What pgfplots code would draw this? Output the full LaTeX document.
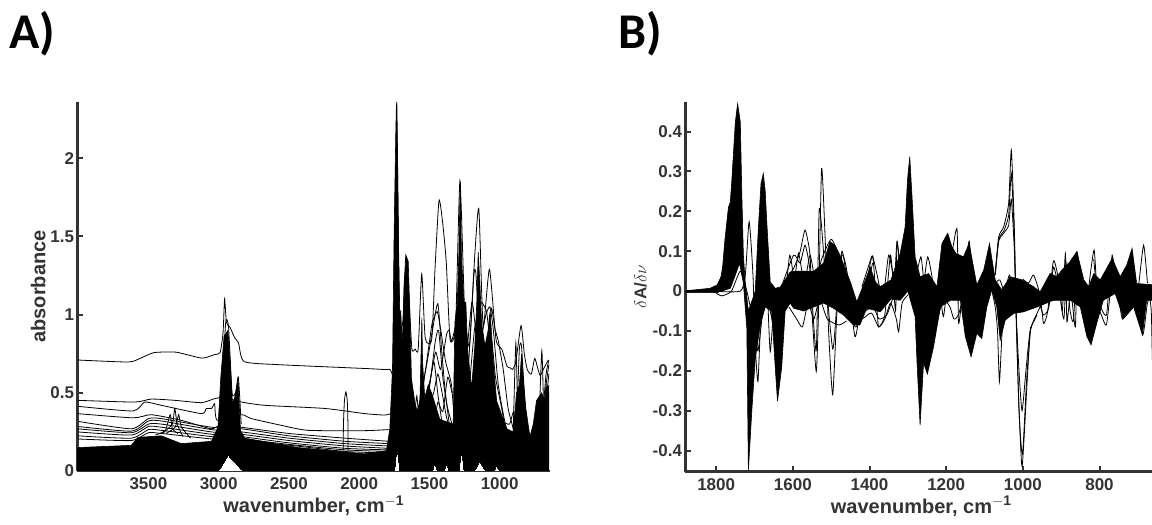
\documentclass[border=0pt]{standalone}
\usepackage{fontspec}
\setmainfont{Liberation Sans}
\newfontfamily\panelfont{Carlito}
\usepackage{pgfplots}
\pgfplotsset{compat=1.18}
\definecolor{axc}{HTML}{333333}
\pgfplotsset{
  sp/.style={black,line width=0.8pt,smooth,tension=0.35,no markers},
  mass/.style={black,fill=black,line width=0.6pt,no markers},
  hole/.style={white,fill=white,line width=0pt,no markers},
  panel/.style={scale only axis,anchor=south west,axis x line*=bottom,axis y line*=left,
    axis line style={-,line width=2.4pt,color=axc},
    tick style={line width=2pt,color=axc},
    major tick length=6pt,tick align=inside,
    x dir=reverse,
    xtick pos=bottom,ytick pos=left,
    tick label style={font=\fontsize{17}{17}\selectfont\bfseries,text=axc},
    label style={font=\fontsize{20}{20}\selectfont\bfseries,text=axc},
    xticklabel style={yshift=-3pt},
    xlabel style={yshift=1pt},
  },
}
\begin{document}
\begin{tikzpicture}
\useasboundingbox (0,0) rectangle (1152pt,525pt);
\clip (0,0) rectangle (1152pt,525pt);
\node[anchor=base west,inner sep=0pt,text=black] at (9pt,476pt) {\panelfont\fontsize{50}{50}\selectfont\bfseries A)};
\node[anchor=base west,inner sep=0pt,text=black] at (618pt,476pt) {\panelfont\fontsize{50}{50}\selectfont\bfseries B)};
\begin{axis}[panel,at={(77.5pt,54pt)},width=472.5pt,height=369pt,
  xmin=642,xmax=4005,ymin=0,ymax=2.36,
  xtick={1000,1500,2000,2500,3000,3500},xticklabels={1000,1500,2000,2500,3000,3500},
  ytick={0,0.5,1,1.5,2},yticklabels={0,0.5,1,1.5,2},
  xlabel={wavenumber, cm$^{\mathbf{-1}}$},ylabel={absorbance},
  ylabel style={yshift=-2pt}]
\addplot[mass] coordinates {(4005,0)(4005,.15)(3622,.164)(3575,.215)(3408,.225)(3266,.175)(3052,.19)(3005,.28)(2985,.6)(2962,.86)(2934,.9)(2915,.65)(2902,.43)(2886,.47)(2862,.58)(2845,.26)(2815,.21)(2435,.15)(1960,.11)(1806,.13)(1782,.27)(1763,.657)(1751,1.55)(1739,2.19)(1735,2.35)(1727,1.98)(1720,1.45)(1711,1.0)(1704,1.02)(1695,.83)(1687,.95)(1680,1.21)(1663,1.37)(1651,1.34)(1640,1.02)(1628,.59)(1604,.44)(1587,.38)(1568,.45)(1561,.7)(1554,.98)(1549,.7)(1533,.46)(1509,.55)(1485,.5)(1426,.33)(1331,.3)(1319,.95)(1302,1.08)(1291,1.38)(1281,1.85)(1272,1.38)(1255,1.08)(1241,1.08)(1229,.785)(1200,.53)(1177,.8)(1162,1.1)(1153,1.4)(1141,1.2)(1129,.95)(1105,.8)(1082,.9)(1072,1.0)(1063,.95)(1046,.7)(1022,.45)(951,.27)(904,.25)(880,.5)(860,.55)(844,.75)(833,.6)(814,.4)(785,.22)(761,.3)(738,.45)(702,.5)(680,.45)(664,.55)(650,.5)(650,0)} \closedcycle;
% white gaps left by the band at the foot of the peaks
\addplot[hole] coordinates {(2992,0)(2933,.09)(2885,.05)(2838,0)} \closedcycle;
\addplot[hole] coordinates {(1741,0)(1730,.10)(1717,0)} \closedcycle;
\addplot[hole] coordinates {(1470,0)(1461,.03)(1450,0)} \closedcycle;
\addplot[hole] coordinates {(1387,0)(1378,.03)(1368,0)} \closedcycle;
\addplot[hole] coordinates {(1282,0)(1271,.09)(1260,0)} \closedcycle;
\addplot[hole] coordinates {(1170,0)(1141,.05)(1110,0)} \closedcycle;
\addplot[hole] coordinates {(1030,0)(1022,.025)(1012,0)} \closedcycle;
% single spectra
\addplot[sp] coordinates {(4005,.71)(3644,.697)(3560,.72)(3461,.757)(3304,.76)(3120,.722)(3029,.745)(2990,.757)(2969,.885)(2958,1.1)(2945,.95)(2920,.92)(2885,.85)(2859,.82)(2819,.70)(2571,.68)(1942,.655)(1785,.65)(1746,.69)(1733,2.36)(1715,1.0)(1690,.95)(1668,1.38)(1645,1.1)(1625,.78)(1602,.78)(1580,.78)(1555,1.26)(1530,.85)(1484,.84)(1460,1.3)(1432,1.73)(1405,1.58)(1380,1.33)(1353,.84)(1314,.93)(1283,1.855)(1249,1.01)(1215,.8)(1183,1.3)(1149,1.68)(1118,.93)(1073,1.29)(1026,.84)(985,.78)(948,.67)(925,.66)(908,.65)(885,.7)(848,.93)(825,.75)(804,.65)(775,.62)(751,.72)(730,.66)(712,.61)(690,.65)(654,.71)};
\addplot[sp] coordinates {(4005,.452)(3599,.441)(3480,.46)(3313,.452)(3123,.437)(3028,.463)(2960,.47)(2838,.441)(2672,.42)(2245,.4)(1960,.367)(1818,.358)(1760,.37)};
\addplot[sp] coordinates {(4005,.414)(3610,.384)(3527,.441)(3408,.42)(3123,.367)(3088,.4)(3050,.4)(3029,.43)(3010,.324)(2838,.36)(2767,.335)(2554,.292)(2364,.26)(1960,.258)(1790,.265)};
\addplot[sp] coordinates {(4005,.367)(3610,.34)(3480,.36)(3266,.324)(3052,.27)(2980,.3)(2838,.28)(2500,.24)(2100,.21)(1790,.19)};
\addplot[sp] coordinates {(4005,.318)(3622,.27)(3500,.335)(3408,.335)(3052,.28)(2838,.27)(2500,.225)(2100,.19)(1790,.175)};
\addplot[sp] coordinates {(4005,.285)(3622,.255)(3500,.32)(3408,.32)(3052,.265)(2838,.25)(2500,.21)(2100,.175)(1790,.16)};
\addplot[sp] coordinates {(4005,.27)(3622,.245)(3500,.30)(3408,.30)(3052,.25)(2838,.235)(2500,.195)(2100,.16)(1790,.145)};
\addplot[sp] coordinates {(4005,.25)(3622,.23)(3500,.285)(3408,.28)(3052,.235)(2838,.22)(2500,.18)(2100,.145)(1790,.135)};
\addplot[sp] coordinates {(4005,.225)(3622,.21)(3500,.265)(3408,.26)(3052,.22)(2838,.205)(2500,.17)(2100,.135)(1790,.125)};
\addplot[sp] coordinates {(4005,.205)(3622,.195)(3500,.245)(3408,.24)(3052,.205)(2838,.19)(2500,.165)(2100,.125)(1790,.115)};
\addplot[sp] coordinates {(3450,.23)(3380,.26)(3345,.36)(3330,.27)(3290,.24)};
\addplot[sp] coordinates {(3400,.24)(3330,.30)(3313,.40)(3295,.30)(3255,.22)};
\addplot[sp] coordinates {(3375,.24)(3310,.28)(3285,.36)(3265,.28)(3200,.21)};
\addplot[sp] coordinates {(2114,.13)(2112,.30)(2105,.45)(2095,.505)(2085,.45)(2080,.30)(2079,.13)};
\addplot[sp] coordinates {(2980,.5)(2950,.95)(2930,.92)(2905,.5)(2880,.5)(2860,.6)(2840,.3)};
% fingerprint region
\addplot[sp] coordinates {(1600,.3)(1516,.7)(1473,.93)(1440,1.07)(1414,.785)(1390,.53)(1355,.27)};
\addplot[sp] coordinates {(1590,.25)(1504,.8)(1480,.95)(1445,1.02)(1421,.91)(1385,.7)(1343,.55)(1320,.27)};
\addplot[sp] coordinates {(1570,.38)(1498,.57)(1456,.76)(1421,.65)(1379,.87)(1359,.9)(1343,.83)(1307,.95)};
\addplot[sp] coordinates {(1555,.17)(1509,.49)(1469,.7)(1440,.49)(1404,.27)};
\addplot[sp] coordinates {(1530,.35)(1490,.6)(1460,.82)(1435,.9)(1405,.6)(1375,.42)(1340,.3)};
\addplot[sp] coordinates {(1500,.42)(1470,.5)(1440,.62)(1410,.5)(1380,.35)(1350,.25)};
\addplot[sp] coordinates {(1610,.3)(1590,.48)(1570,.3)(1550,.55)(1530,.4)(1500,.5)(1470,.3)(1440,.44)(1405,.38)(1370,.6)(1340,.5)};
\addplot[sp] coordinates {(1220,.7)(1184,1.25)(1170,1.27)(1153,1.03)(1129,1.08)(1094,1.02)(1077,.91)(1058,1.04)(1034,.91)(1010,.83)(975,.65)(940,.4)(904,.27)(880,.12)};
\addplot[sp] coordinates {(1229,.8)(1198,1.08)(1177,.95)(1153,.7)(1120,.9)(1098,1.0)(1070,1.05)(1045,.9)(1010,.55)(960,.3)(925,.22)};
\addplot[sp] coordinates {(1215,.55)(1180,.9)(1150,1.0)(1120,.85)(1085,.7)(1050,.55)(1015,.4)(980,.32)(930,.3)(900,.38)(880,.2)};
\addplot[sp] coordinates {(1130,.9)(1100,.65)(1060,.85)(1030,.6)(990,.42)(950,.22)};
\addplot[sp] coordinates {(905,.2)(885,.82)(870,.25)};
\addplot[sp] coordinates {(880,.3)(860,.78)(845,.8)(825,.5)(800,.15)};
\addplot[sp] coordinates {(720,.3)(700,.77)(685,.3)};
\addplot[sp] coordinates {(690,.4)(670,.62)(650,.71)};
\addplot[sp] coordinates {(700,.3)(670,.55)(650,.68)};
\addplot[sp] coordinates {(700,.25)(670,.45)(650,.62)};
\addplot[sp] coordinates {(700,.2)(670,.38)(650,.55)};
\end{axis}
\begin{axis}[panel,at={(685.5pt,53.3pt)},width=471.5pt,height=370pt,
  xmin=650,xmax=1880,ymin=-0.453,ymax=0.475,
  xtick={800,1000,1200,1400,1600,1800},xticklabels={800,1000,1200,1400,1600,1800},
  ytick={-0.4,-0.3,-0.2,-0.1,0,0.1,0.2,0.3,0.4},yticklabels={-0.4,-0.3,-0.2,-0.1,0,0.1,0.2,0.3,0.4},
  xlabel={wavenumber, cm$^{\mathbf{-1}}$},
  ylabel={\fontsize{17}{17}\selectfont$\delta$\textbf{A}/$\delta\nu$},
  ylabel style={yshift=-1pt}]
\addplot[mass] coordinates {(1877,-.004)(1877,.001)(1816,.007)(1798,.015)(1785,.04)(1777,.13)(1768,.21)(1763,.224)(1759,.28)(1750,.424)(1744,.47)(1737,.424)(1733,.24)(1729,.09)(1724,.02)(1716,-.05)(1705,-.02)(1698,0)(1690,.157)(1683,.27)(1677,.295)(1672,.25)(1668,.174)(1659,.023)(1646,.007)(1633,.01)(1607,.048)(1590,.05)(1570,.05)(1545,.05)(1520,.07)(1503,.124)(1490,.115)(1477,.09)(1450,.023)(1433,-.027)(1416,.015)(1398,.06)(1385,.023)(1372,.011)(1344,.028)(1320,.094)(1307,.161)(1301,.278)(1295,.337)(1289,.236)(1281,.086)(1268,.036)(1246,.044)(1224,.011)(1211,.119)(1196,.145)(1185,.111)(1174,.094)(1155,.086)(1140,.119)(1120,.015)(1102,.053)(1087,.119)(1072,.028)(1055,.003)(1033,.036)(1002,.028)(972,.011)(955,-.002)(929,.044)(911,.036)(898,.053)(880,.07)(859,.099)(841,.028)(828,.011)(815,.044)(798,.028)(767,.082)(746,.036)(729,.065)(715,.107)(703,.019)(650,.015)
(650,-.023)(677,-.023)(688,-.11)(711,-.04)(737,-.069)(759,-.006)(790,-.023)(807,-.08)(822,-.135)(833,-.114)(850,-.04)(876,-.023)(920,-.023)(963,-.04)(998,-.052)(1024,-.056)(1046,-.073)(1059,-.123)(1068,-.04)(1081,.003)(1094,-.04)(1107,-.119)(1120,-.106)(1135,-.165)(1150,-.114)(1163,-.023)(1189,-.023)(1215,-.04)(1233,-.14)(1249,-.208)(1259,-.18)(1268,-.336)(1276,-.18)(1281,-.064)(1300,0)(1320,-.023)(1344,-.02)(1372,-.052)(1407,-.043)(1425,-.085)(1442,-.085)(1468,-.06)(1494,-.043)(1520,-.03)(1546,-.04)(1572,-.05)(1598,-.043)(1607,-.03)(1620,-.05)(1629,-.19)(1640,-.276)(1646,-.19)(1655,-.05)(1672,-.04)(1685,-.085)(1698,-.17)(1707,-.30)(1716,-.45)(1720,-.094)(1729,.02)(1739,.07)(1750,.04)(1763,.007)(1798,-.004)} -- cycle;
\addplot[sp] coordinates {(1880,-.002)(1800,-.001)(1737,0)(1724,.04)(1714,.174)(1704,.04)(1698,-.135)(1691,-.227)(1683,-.052)(1672,.09)(1666,-.01)(1659,-.152)(1650,-.052)(1633,.005)(1598,.057)(1581,.099)(1568,.153)(1555,.09)(1550,-.052)(1539,-.202)(1533,-.052)(1525,.307)(1516,.14)(1507,-.094)(1496,-.26)(1485,-.052)(1472,.09)(1459,.05)(1438,-.114)(1424,-.044)(1407,.023)(1392,.088)(1380,-.052)(1376,-.09)(1360,-.06)(1345,.09)(1332,-.05)(1328,.124)(1315,.0)};
\addplot[sp] coordinates {(1800,-.005)(1785,-.012)(1760,.0)(1737,.05)(1720,0)(1698,-.1)(1691,-.15)(1680,-.06)(1668,.13)(1658,-.04)(1650,-.09)(1633,.0)(1598,.09)(1581,.07)(1568,.115)(1555,.05)(1539,-.15)(1531,.207)(1516,.05)(1496,-.145)(1485,-.03)(1472,.1)(1459,.03)(1438,-.09)(1420,-.05)(1392,.07)};
\addplot[sp] coordinates {(1790,.02)(1782,.06)(1772,.03)(1760,.1)};
\addplot[sp] coordinates {(1620,-.02)(1608,.09)(1596,.03)(1585,.095)(1570,.02)(1555,.09)(1540,.02)(1525,.08)(1500,.13)(1480,.09)(1460,.04)};
\addplot[sp] coordinates {(1610,-.04)(1590,-.07)(1575,-.09)(1560,-.03)(1545,-.07)(1530,-.02)(1510,-.07)(1480,-.085)(1460,-.075)};
\addplot[sp] coordinates {(1662,-.04)(1648,-.09)(1632,-.13)(1622,-.04)};
\addplot[sp] coordinates {(1420,.01)(1400,.07)(1392,.088)(1380,.04)(1365,-.02)(1350,.09)(1335,.03)(1328,.124)(1315,.0)(1306,.02)};
\addplot[sp] coordinates {(1450,-.06)(1420,-.07)(1395,-.055)(1376,-.09)(1360,-.07)(1345,-.03)(1330,-.07)(1324,-.102)(1315,-.03)(1300,-.01)};
\addplot[sp] coordinates {(1410,-.05)(1390,-.04)(1375,-.07)(1355,-.06)(1340,-.02)};
\addplot[sp] coordinates {(1280,.03)(1266,.086)(1258,.03)(1248,.086)(1236,.03)(1224,-.07)(1215,-.02)(1207,-.064)(1196,.02)(1172,.157)(1168,-.077)(1160,-.03)(1140,.125)(1130,-.05)};
\addplot[sp] coordinates {(1240,.0)(1222,-.06)(1207,-.02)(1190,-.04)(1180,-.07)(1168,-.06)(1150,.0)(1140,-.06)(1120,.0)};
\addplot[sp] coordinates {(1085,.02)(1072,-.04)(1066,-.1)(1061,-.227)(1054,-.1)(1045,.0)(1035,.04)(1025,0)};
\addplot[sp] coordinates {(1080,.0)(1072,.02)(1060,.028)(1050,.0)};
\addplot[sp] coordinates {(1072,.044)(1063,.136)(1050,.161)(1037,.22)(1030,.353)(1022,.153)(1018,-.048)(1011,-.265)(1002,-.44)(989,-.231)(980,-.098)(963,-.056)(945,-.02)};
\addplot[sp] coordinates {(1072,.04)(1063,.13)(1050,.15)(1037,.19)(1030,.295)(1022,.13)(1018,-.04)(1010,-.2)(1002,-.30)(992,-.2)(981,-.1)(963,-.06)};
\addplot[sp] coordinates {(1072,.04)(1063,.125)(1050,.145)(1037,.165)(1030,.23)(1022,.1)(1018,-.03)(1010,-.3)(1001,-.41)(990,-.22)(980,-.09)};
\addplot[sp] coordinates {(1000,.03)(985,.02)(972,.04)(955,-.01)(946,-.081)(935,-.05)(920,.076)(905,.02)(897,-.05)(889,.094)(885,-.077)(875,.0)(863,-.09)(858,.095)(850,-.02)};
\addplot[sp] coordinates {(960,-.02)(946,-.06)(932,-.04)(920,.06)(905,.0)(893,-.07)(885,.07)(878,-.04)(868,-.075)(860,.08)};
\addplot[sp] coordinates {(828,.01)(814,.103)(805,-.03)(795,-.06)(782,-.085)(772,.0)(767,.09)(755,.02)(740,-.07)(728,.06)(715,-.03)(700,.0)(685,.115)(675,.02)};
\addplot[sp] coordinates {(815,.08)(804,-.02)(782,-.06)(770,.07)(750,.0)(730,.05)(715,.09)(703,-.02)(687,-.11)(675,-.03)(663,-.01)};
\addplot[sp] coordinates {(680,-.03)(672,.0)(665,-.05)(662,-.173)(658,-.3)};
\end{axis}
\end{tikzpicture}
\end{document}
